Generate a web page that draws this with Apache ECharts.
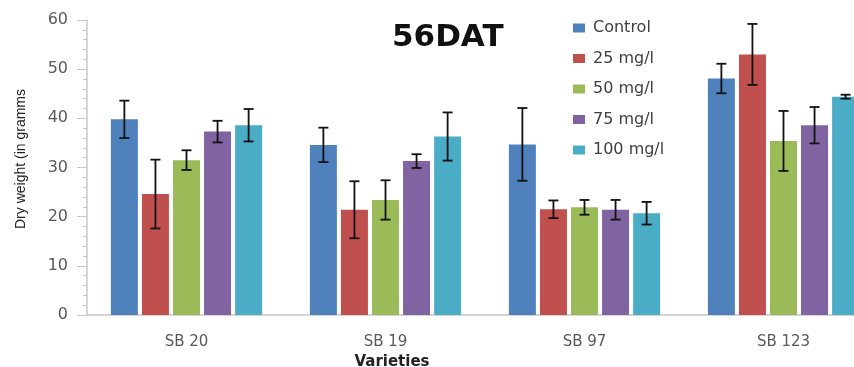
<!DOCTYPE html>
<html>
<head>
<meta charset="utf-8">
<script src="https://cdn.jsdelivr.net/npm/echarts@6/dist/echarts.min.js"></script>
<style>html,body{margin:0;padding:0;background:#fff;}#c{width:854px;height:367px;}</style>
</head>
<body>
<div id="c"></div>
<script>
const categories = ['SB 20', 'SB 19', 'SB 97', 'SB 123'];
const seriesNames = ['Control', '25 mg/l', '50 mg/l', '75 mg/l', '100 mg/l'];
const yTicks = [0, 10, 20, 30, 40, 50, 60];

const control = [39.8, 34.6, 34.7, 48.1];
const mg25 = [24.6, 21.4, 21.5, 53.0];
const mg50 = [31.5, 23.4, 21.9, 35.4];
const mg75 = [37.3, 31.3, 21.4, 38.6];
const mg100 = [38.6, 36.3, 20.7, 44.4];

const controlErr = [3.8, 3.5, 7.4, 3.0];
const mg25Err = [7.0, 5.8, 1.8, 6.2];
const mg50Err = [2.0, 4.0, 1.5, 6.1];
const mg75Err = [2.2, 1.4, 2.0, 3.7];
const mg100Err = [3.3, 4.9, 2.3, 0.4];

const colors = ['#4F81BD', '#C0504D', '#9BBB59', '#8064A2', '#4BACC6'];
const values = [control, mg25, mg50, mg75, mg100];
const errors = [controlErr, mg25Err, mg50Err, mg75Err, mg100Err];

const CAT_GAP = 0.24, BAR_GAP = 0.15;

const errData = [];
values.forEach((arr, s) => arr.forEach((v, c) => errData.push([c, s, v, errors[s][c]])));

const chart = echarts.init(document.getElementById('c'));
const barSeries = seriesNames.map((name, i) => ({
  name: name,
  type: 'bar',
  data: values[i],
  itemStyle: { color: colors[i] },
  barGap: (BAR_GAP * 100) + '%',
  barCategoryGap: (CAT_GAP * 100) + '%'
}));

chart.setOption({
  animation: false,
  color: colors,
  title: {
    text: '56DAT',
    left: 392,
    top: 22,
    padding: 0,
    textStyle: { fontFamily: 'DejaVu Sans', fontWeight: 'bold', fontSize: 31, color: '#111' }
  },
  legend: {
    orient: 'vertical',
    left: 573,
    top: 20,
    padding: 0,
    itemWidth: 12,
    itemHeight: 9,
    itemGap: 14.5,
    icon: 'rect',
    data: seriesNames,
    textStyle: { fontFamily: 'DejaVu Sans', fontSize: 16, color: '#404040', lineHeight: 16, padding: [0, 0, 0, 3] }
  },
  grid: { left: 87, top: 20, bottom: 52, width: 796, outerBoundsMode: 'none', containLabel: false },
  xAxis: {
    type: 'category',
    data: categories,
    axisLine: { lineStyle: { color: '#c8c8c8', width: 1.5 } },
    axisTick: { show: false },
    axisLabel: { margin: 20, fontFamily: 'DejaVu Sans', fontSize: 15, color: '#595959' }
  },
  yAxis: {
    type: 'value',
    min: yTicks[0],
    max: yTicks[yTicks.length - 1],
    interval: 10,
    splitLine: { show: false },
    axisLine: { show: true, lineStyle: { color: '#c8c8c8', width: 1.5 } },
    axisTick: { show: true, length: 10, lineStyle: { color: '#c8c8c8' } },
    minorTick: { show: true, splitNumber: 5, length: 4, lineStyle: { color: '#c8c8c8' } },
    axisLabel: { margin: 19, fontFamily: 'DejaVu Sans', fontSize: 16, color: '#595959' }
  },
  graphic: [
    {
      type: 'text',
      x: 21, y: 159, rotation: Math.PI / 2,
      style: { text: 'Dry weight (in gramms', fontFamily: 'Liberation Sans', fontSize: 14, fill: '#222', textAlign: 'center', textVerticalAlign: 'middle' }
    },
    {
      type: 'text',
      x: 392, y: 362,
      style: { text: 'Varieties', fontFamily: 'DejaVu Sans', fontWeight: 'bold', fontSize: 15, fill: '#222', textAlign: 'center', textVerticalAlign: 'middle' }
    }
  ],
  series: barSeries.concat([{
    type: 'custom',
    name: 'err',
    z: 10,
    data: errData,
    encode: { x: 0, y: 2 },
    renderItem: function (params, api) {
      const cat = api.value(0), s = api.value(1), v = api.value(2), e = api.value(3);
      const band = api.size([1, 0])[0];
      const bw = band * (1 - CAT_GAP) / (5 + 4 * BAR_GAP);
      const gap = bw * BAR_GAP;
      const center = api.coord([cat, 0])[0];
      const x = center - (5 * bw + 4 * gap) / 2 + bw / 2 + s * (bw + gap);
      const top = api.coord([cat, v + e])[1];
      const bot = api.coord([cat, v - e])[1];
      const hw = 5;
      const st = { stroke: '#111', lineWidth: 1.8 };
      return {
        type: 'group',
        children: [
          { type: 'line', shape: { x1: x, y1: top, x2: x, y2: bot }, style: st },
          { type: 'line', shape: { x1: x - hw, y1: top, x2: x + hw, y2: top }, style: st },
          { type: 'line', shape: { x1: x - hw, y1: bot, x2: x + hw, y2: bot }, style: st }
        ]
      };
    }
  }])
});
</script>
</body>
</html>
